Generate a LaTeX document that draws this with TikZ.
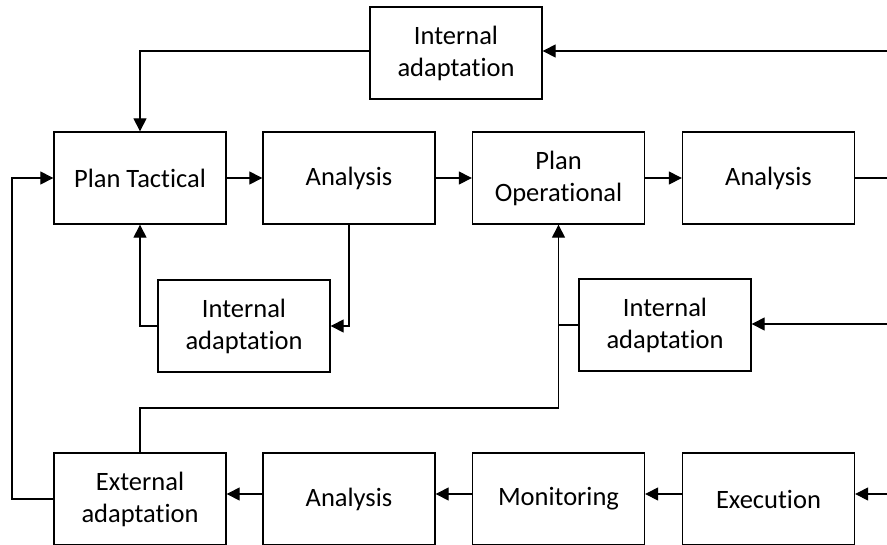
\documentclass[tikz,border=0pt]{standalone}
\usepackage{fontspec}
\setmainfont{Carlito}[Ligatures=NoCommon]
\usetikzlibrary{arrows.meta}
\begin{document}
\begin{tikzpicture}[x=1pt,y=-1pt,
  box/.style={draw,line width=1.3pt,minimum width=172pt,minimum height=92pt,align=center,inner sep=0pt,font=\fontsize{26.5}{32}\selectfont},
  conn/.style={line width=1.1pt,-{Triangle[length=13pt,width=13pt]}},
  plain/.style={line width=1.1pt}]
\useasboundingbox (0,0) rectangle (887,544);
\clip (0,0) rectangle (887,544);
\node[box] (ia1) at (456,53) {Internal\\adaptation};
\node[box] (pt) at (140,178) {Plan Tactical};
\node[box] (an1) at (349,178) {Analysis};
\node[box] (po) at (558.5,178) {Plan\\Operational};
\node[box] (an2) at (768.5,178) {Analysis};
\node[box] (ia2) at (244,326) {Internal\\adaptation};
\node[box] (ia3) at (665,325) {Internal\\adaptation};
\node[box] (ea) at (140,499) {External\\adaptation};
\node[box] (an3) at (349,499) {Analysis};
\node[box] (mon) at (558.5,499) {Monitoring};
\node[box] (ex) at (768.5,499) {Execution};
\coordinate (rt1) at (887,51);
\coordinate (rt2) at (887,324);
\coordinate (rt3) at (887,494);
\coordinate (rt4) at (887,178);
\coordinate (jn) at (558.5,408);
\coordinate (lft) at (12,499);
% top row
\draw[conn] (rt1) -- (rt1 -| ia1.east);
\draw[conn] (ia1.west |- rt1) -| (pt.north);
\draw[conn] (pt.east) -- (an1.west);
\draw[conn] (an1.east) -- (po.west);
\draw[conn] (po.east) -- (an2.west);
\draw[plain] (an2.east) -- (rt4);
% internal loops
\draw[conn] (an1.south) |- (ia2.east);
\draw[conn] (ia2.west) -| (pt.south);
\draw[conn] (rt2) -- (rt2 -| ia3.east);
\draw[conn] (ia3.west) -| (po.south);
\draw[plain] (ia3.west -| po.south) -- (jn) -| (ea.north);
% bottom row
\draw[conn] (rt3) -- (rt3 -| ex.east);
\draw[conn] ([yshift=5pt]ex.west) -- ([yshift=5pt]mon.east);
\draw[conn] ([yshift=5pt]mon.west) -- ([yshift=5pt]an3.east);
\draw[conn] ([yshift=5pt]an3.west) -- ([yshift=5pt]ea.east);
\draw[conn] (ea.west) -- (lft) |- (pt.west);
\end{tikzpicture}
\end{document}
